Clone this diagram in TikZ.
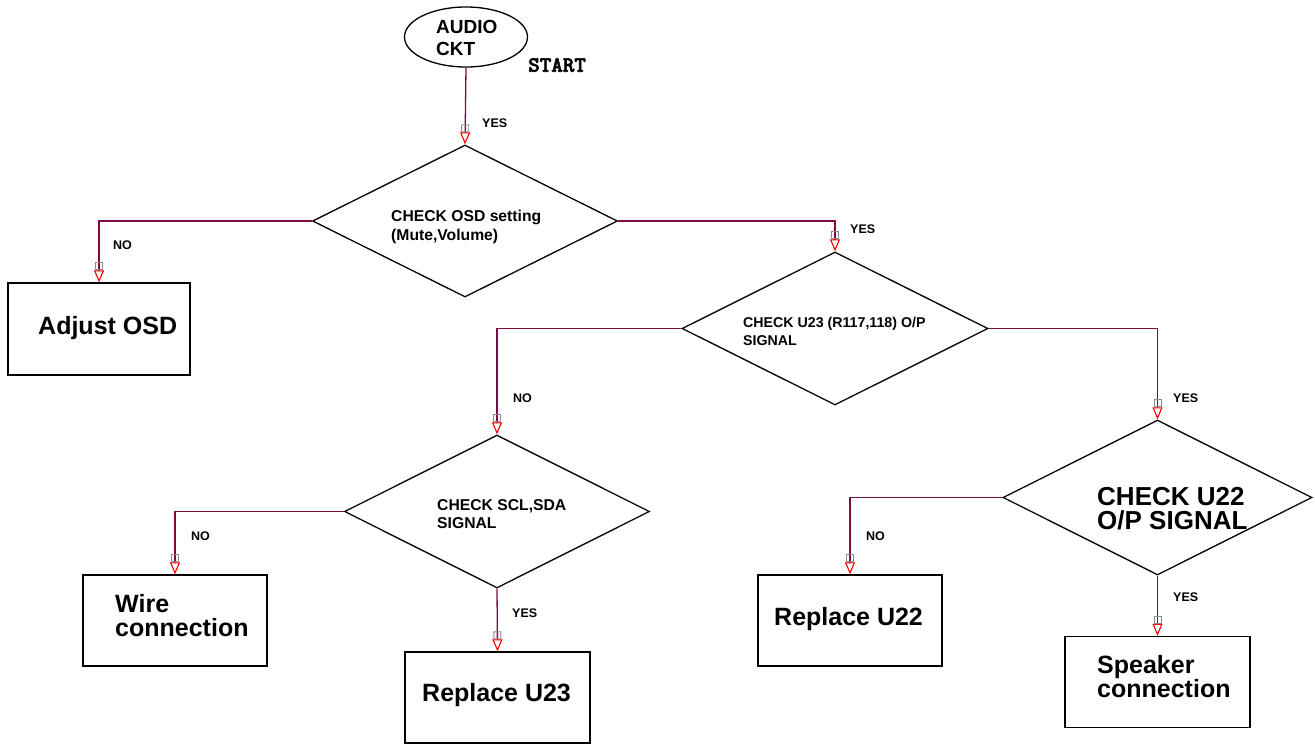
\documentclass[tikz,border=0pt]{standalone}
\usepackage{fontspec}
\setmainfont{Liberation Sans}
\newfontfamily\startfont[FakeBold=2.5]{lmmonolt10-bold.otf}
\usetikzlibrary{shapes.geometric,arrows.meta}
\definecolor{wire}{RGB}{128,10,70}
\definecolor{sqgray}{RGB}{140,140,140}
\tikzset{
  decision/.style={draw=black,line width=1.3pt,diamond,inner sep=0pt,minimum width=#1*2,minimum height=#1},
  boxnode/.style={draw=black,line width=1.3pt,rectangle,inner sep=0pt,minimum width=183pt,minimum height=91pt},
  conn/.style={draw=wire,line width=1.3pt,-{Square[open,sqgray,length=8pt,width=8pt,line width=0.9pt]Triangle[open,red,length=12pt,width=10pt,line width=1.1pt]}},
  lbl/.style={font=\bfseries\fontsize{12.5}{14}\selectfont,anchor=west,inner sep=0pt},
  dtext/.style={font=\bfseries\fontsize{15.7}{18.5}\selectfont,anchor=north west,align=left,inner sep=0pt},
  btext/.style={font=\bfseries\fontsize{25}{24}\selectfont,align=left,inner sep=0pt}
}
\begin{document}
\begin{tikzpicture}[x=1pt,y=-1pt]
\useasboundingbox (0,0) rectangle (1315,744);
% start
\node[draw=black,line width=1.3pt,ellipse,minimum width=123pt,minimum height=60pt,inner sep=0pt] (start) at (466,37) {};
\node[font=\bfseries\fontsize{19}{22}\selectfont,align=left,anchor=west,inner sep=0pt] (starttxt) at (436,38) {AUDIO\\CKT};
\node[font=\startfont\fontsize{22}{22}\selectfont,anchor=west,inner sep=0pt] (startlbl) at (528,65) {START};
% decisions
\node[decision=152pt,minimum width=305pt] (d1) at (465,221) {};
\node[decision=153pt,minimum width=306pt] (d2) at (835,328.5) {};
\node[decision=153pt,minimum width=305pt] (d3) at (497,511.5) {};
\node[decision=155pt,minimum width=309pt] (d4) at (1157.5,497.5) {};
\node[dtext] (t1) at (391,210) {CHECK OSD setting\\(Mute,Volume)};
\node[dtext,font=\bfseries\fontsize{14.2}{18.5}\selectfont] (t2) at (743,317) {CHECK U23 (R117,118) O/P\\SIGNAL};
\node[dtext] (t3) at (437,499) {CHECK SCL,SDA\\SIGNAL};
\node[font=\bfseries\fontsize{26}{24}\selectfont,anchor=west,align=left,inner sep=0pt] (t4) at (1097,509) {CHECK U22\\O/P SIGNAL};
% boxes
\node[boxnode,minimum width=182pt,minimum height=92pt] (b1) at (99,329) {};
\node[btext,anchor=west] (bt1) at (38,328) {Adjust OSD};
\node[boxnode,minimum width=184pt] (b2) at (175,620.5) {};
\node[btext,anchor=west] (bt2) at (115,616) {Wire\\connection};
\node[boxnode,minimum width=185pt] (b3) at (497.5,697.5) {};
\node[btext,anchor=west] (bt3) at (422,695) {Replace U23};
\node[boxnode,minimum width=184pt] (b4) at (850,620.5) {};
\node[btext,anchor=west] (bt4) at (774,619) {Replace U22};
\node[boxnode,minimum width=185pt] (b5) at (1157.5,682) {};
\node[btext,anchor=west] (bt5) at (1097,677) {Speaker\\connection};
% connectors
\draw[conn] (start.south) -- (d1.north);
\draw[conn] (d1.west) -| (b1.north);
\draw[conn] (d1.east) -| (d2.north);
\draw[conn] (d2.west) -| (d3.north);
\draw[conn] (d2.east) -| (d4.north);
\draw[conn] (d3.west) -| (b2.north);
\draw[conn] (d3.south) -- (b3.north);
\draw[conn] (d4.west) -| (b4.north);
\draw[conn] (d4.south) -- (b5.north);
% labels
\node[lbl] (l1) at (482,123) {YES};
\node[lbl] (l2) at (113,245) {NO};
\node[lbl] (l3) at (850,229) {YES};
\node[lbl] (l4) at (513,398) {NO};
\node[lbl] (l5) at (1173,398) {YES};
\node[lbl] (l6) at (191,536) {NO};
\node[lbl] (l7) at (512,613) {YES};
\node[lbl] (l8) at (866,536) {NO};
\node[lbl] (l9) at (1173,597) {YES};
\end{tikzpicture}
\end{document}
